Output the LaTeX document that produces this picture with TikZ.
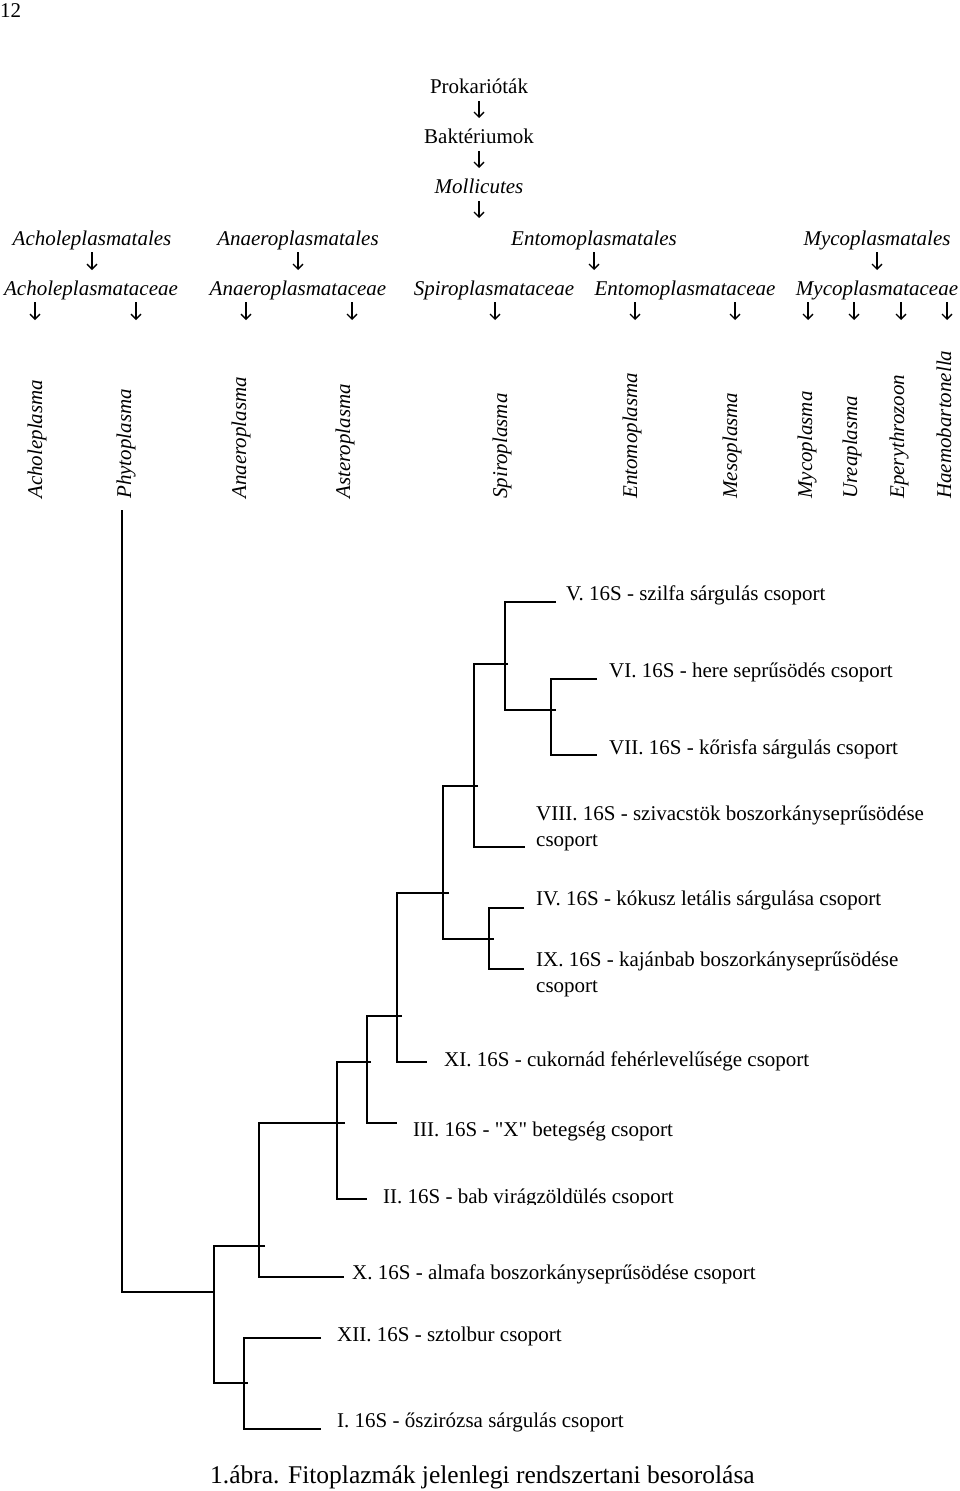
\documentclass[tikz,border=0pt]{standalone}
\usepackage{fontspec}
\setmainfont{Liberation Serif}
\newfontfamily\qfont{Liberation Serif}
\usetikzlibrary{arrows.meta}
\newcommand\tbracket[6]{%
  \coordinate (#1-a) at (#5,#3);
  \coordinate (#1-t) at (#2,#3);
  \coordinate (#1-b) at (#2,#4);
  \coordinate (#1-c) at (#6,#4);
  \draw[br] (#1-a) -- (#1-t) -- (#1-b) -- (#1-c);}
\begin{document}
\begin{tikzpicture}[x=1pt,y=-1pt,
  hdr/.style={inner sep=0pt,anchor=base,font=\fontsize{21}{26}\selectfont},
  ihdr/.style={inner sep=0pt,anchor=base,font=\fontsize{21}{26}\selectfont\itshape},
  genus/.style={inner sep=0pt,rotate=90,anchor=base west,font=\fontsize{21}{26}\selectfont\itshape},
  leaf/.style={inner sep=0pt,anchor=base west,font=\fontsize{21}{26}\selectfont},
  br/.style={line width=1.9pt},
  arr/.style={line width=1.3pt,-{Straight Barb[length=5pt,width=10pt]}}]
\useasboundingbox (0,0) rectangle (960,1491);
\fill[white] (0,0) rectangle (960,1491);

\node[leaf] (page) at (0,17) {12};

% upper hierarchy
\node[hdr] (prok) at (479,93) {Prokarióták};
\node[hdr] (bakt) at (479,143) {Baktériumok};
\node[ihdr] (moll) at (479,193) {Mollicutes};

\node[ihdr] (o1) at (92,245) {Acholeplasmatales};
\node[ihdr] (o2) at (298,245) {Anaeroplasmatales};
\node[ihdr] (o3) at (594,245) {Entomoplasmatales};
\node[ihdr] (o4) at (877,245) {Mycoplasmatales};

\node[ihdr] (f1) at (91,295) {Acholeplasmataceae};
\node[ihdr] (f2) at (298,295) {Anaeroplasmataceae};
\node[ihdr] (f3) at (494,295) {Spiroplasmataceae};
\node[ihdr] (f4) at (685,295) {Entomoplasmataceae};
\node[ihdr] (f5) at (877,295) {Mycoplasmataceae};

% arrows
\foreach \n/\x/\ya/\yb in {p1/479/101/118, p2/479/151/168, p3/479/201/218,
   q1/92/252/270, q2/298/252/270, q3/594/252/270, q4/877/252/270,
   r1/35/302/320, r2/136/302/320, r3/246/302/320, r4/352/302/320,
   r5/495/302/320, r6/635/302/320, r7/735/302/320, r8/808/302/320,
   r9/854/302/320, r10/901/302/320, r11/947/302/320}{
  \coordinate (\n-s) at (\x,\ya);
  \coordinate (\n-e) at (\x,\yb);
  \draw[arr] (\n-s) -- (\n-e);
}

% genera
\node[genus] (g1) at (42,499) {Acholeplasma};
\node[genus] (g2) at (131,499) {Phytoplasma};
\node[genus] (g3) at (246,499) {Anaeroplasma};
\node[genus] (g4) at (350,499) {Asteroplasma};
\node[genus] (g5) at (507,499) {Spiroplasma};
\node[genus] (g6) at (637,499) {Entomoplasma};
\node[genus] (g7) at (737,499) {Mesoplasma};
\node[genus] (g8) at (812,499) {Mycoplasma};
\node[genus] (g9) at (857,499) {Ureaplasma};
\node[genus] (g10) at (904,499) {Eperythrozoon};
\node[genus] (g11) at (951,499) {Haemobartonella};

% tree
\coordinate (root-t) at (122,510);
\coordinate (root-c) at (122,1292);
\coordinate (root-e) at (214,1292);
\draw[br] (root-t) -- (root-c) -- (root-e);

\tbracket{H}{505}{602}{710}{556}{556}
\tbracket{I}{551}{679}{755}{597}{597}
\tbracket{G}{474}{664}{847}{508}{525}
\tbracket{F}{443}{786}{939}{478}{494}
\tbracket{J}{489}{908}{969}{524}{524}
\tbracket{E}{397}{893}{1062}{449}{427}
\tbracket{D}{367}{1016}{1123}{402}{397}
\tbracket{C}{337}{1062}{1199}{371}{367}
\tbracket{B}{259}{1123}{1277}{345}{344}
\tbracket{A}{214}{1246}{1383}{265}{248}
\tbracket{K}{244}{1338}{1429}{321}{321}

% leaf labels
\node[leaf] (l5) at (566,600) {V. 16S - szilfa sárgulás csoport};
\node[leaf] (l6) at (609,677) {VI. 16S - here seprűsödés csoport};
\node[leaf] (l7) at (609,754) {VII. 16S - kőrisfa sárgulás csoport};
\node[leaf] (l8) at (536,820) {\begin{tabular}[t]{@{}l@{}}VIII. 16S - szivacstök boszorkányseprűsödése\\csoport\end{tabular}};
\node[leaf] (l4) at (536,905) {IV. 16S - kókusz letális sárgulása csoport};
\node[leaf] (l9) at (536,966) {\begin{tabular}[t]{@{}l@{}}IX. 16S - kajánbab boszorkányseprűsödése\\csoport\end{tabular}};
\node[leaf] (l11) at (444,1066) {XI. 16S - cukornád fehérlevelűsége csoport};
\node[leaf] (l3) at (413,1136) {III. 16S - {\qfont"}X{\qfont"} betegség csoport};
\begin{scope}
  \clip (375,1170) rectangle (720,1204);
  \node[leaf] (l2) at (383,1203) {II. 16S - bab virágzöldülés csoport};
\end{scope}
\node[leaf] (l10) at (352,1279) {X. 16S - almafa boszorkányseprűsödése csoport};
\node[leaf] (l12) at (337,1341) {XII. 16S - sztolbur csoport};
\node[leaf] (l1) at (337,1427) {I. 16S - őszirózsa sárgulás csoport};

\node[inner sep=0pt,anchor=base west,font=\fontsize{25.5}{30}\selectfont] (cap) at (210,1483) {1.ábra. Fitoplazmák jelenlegi rendszertani besorolása};
\end{tikzpicture}
\end{document}
